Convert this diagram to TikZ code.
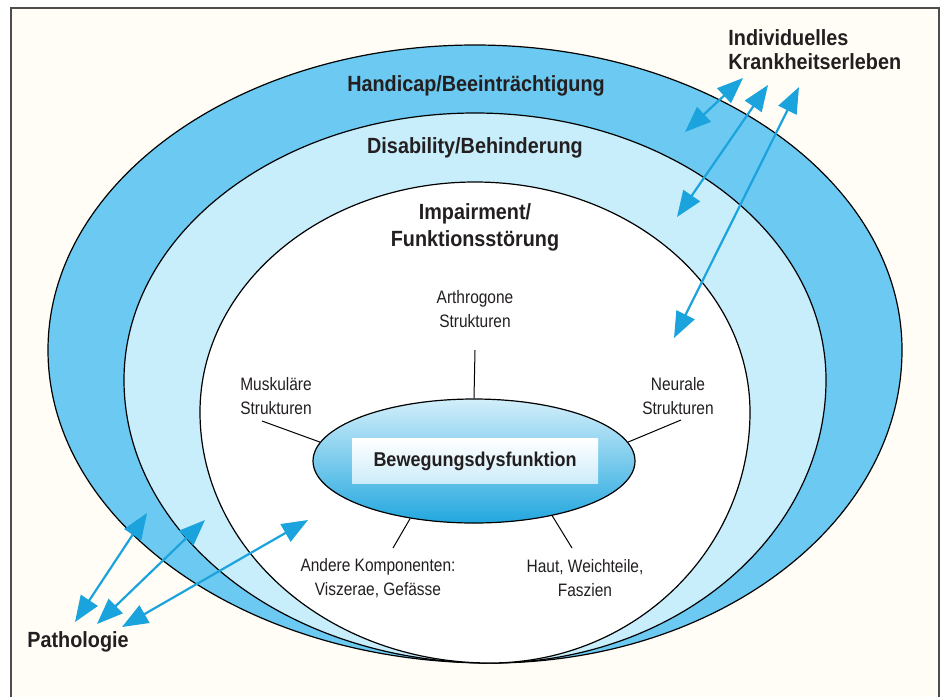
\documentclass[tikz,border=0pt]{standalone}
\usepackage{fontspec}
\usetikzlibrary{arrows.meta,shapes.geometric}
\newfontfamily\regf{Liberation Sans}[FakeStretch=0.86]
\newfontfamily\boldf{Liberation Sans}[FakeStretch=0.9]
\definecolor{outerblue}{HTML}{6CC9F1}
\definecolor{midblue}{HTML}{C8EDFB}
\definecolor{arrowblue}{HTML}{1AA3DC}
\definecolor{txt}{HTML}{231F20}
\definecolor{paper}{HTML}{FFFDF6}
\definecolor{framec}{HTML}{4D4D4D}
\tikzset{
  egg/.style n args={6}{insert path={
    ({#1-#3},#2) .. controls ({#1-#3},{#2-0.5523*#4}) and ({#1-0.5523*#3},{#2-#4}) .. (#1,{#2-#4})
    .. controls ({#1+0.5523*#3},{#2-#4}) and ({#1+#3},{#2-0.5523*#4}) .. ({#1+#3},#2)
    .. controls ({#1+#3},{#2+0.5523*#5}) and ({#6+0.5523*(#1+#3-#6)},{#2+#5}) .. (#6,{#2+#5})
    .. controls ({#6-0.5523*(#6-#1+#3)},{#2+#5}) and ({#1-#3},{#2+0.5523*#5}) .. cycle}},
  boldlab/.style={inner sep=0pt, text=txt, align=center, font=\boldf\bfseries\fontsize{11}{13.5}\selectfont},
  reglab/.style={inner sep=0pt, text=txt, align=center, font=\regf\fontsize{9}{12.2}\selectfont},
  spoke/.style={draw=black, line width=0.5pt},
  outline/.style={draw=black, line width=0.6pt},
  twoway/.style={draw=arrowblue, line width=1.1pt, {Triangle[length=13pt,width=10pt]}-{Triangle[length=13pt,width=10pt]}}
}
\begin{document}
\begin{tikzpicture}[x=0.5pt,y=-0.5pt]
\useasboundingbox (0,0) rectangle (947,697);
\fill[white] (0,0) rectangle (947,697);
\fill[paper] (11,8) rectangle (939,697);
\draw[framec, line width=0.9pt] (11,697) -- (11,8) -- (939,8) -- (939,697);

% nested shapes
\path[fill=outerblue, outline] [egg={475}{350}{427}{305}{313}{490}];
\path[fill=midblue, outline] [egg={475}{380}{351}{267}{283}{490}];
\path[fill=white, outline] [egg={475}{412}{275}{230}{251}{490}];

% central ellipse
\node[ellipse, outline, minimum width=161pt, minimum height=62pt, inner sep=0pt,
      top color=white!70!outerblue, bottom color=arrowblue!90!outerblue] (bew) at (474,461) {};
\node[inner sep=0pt, minimum width=123pt, minimum height=22.5pt,
      top color=white, bottom color=white!65!outerblue, text=txt,
      font=\boldf\bfseries\fontsize{10}{12}\selectfont] (bewlab) at (475,461) {Bewegungsdysfunktion};

% ring labels
\node[boldlab] (handicap) at (476,86) {Handicap/Beeinträchtigung};
\node[boldlab] (disab) at (475,148) {Disability/Behinderung};
\node[boldlab] (impair) at (475,227) {Impairment/\\Funktionsstörung};

% component labels
\node[reglab] (arth) at (475,309) {Arthrogone\\Strukturen};
\node[reglab] (musk) at (276,396) {Muskuläre\\Strukturen};
\node[reglab] (neur) at (678,396) {Neurale\\Strukturen};
\node[reglab] (andere) at (378,578) {Andere Komponenten:\\Viszerae, Gefässe};
\node[reglab] (haut) at (585,578) {Haut, Weichteile,\\Faszien};

% spoke ends
\coordinate (arthend) at (475,350);
\coordinate (muskend) at (262,421);
\coordinate (neurend) at (681,420);
\coordinate (andereend) at (393,548);
\coordinate (hautend) at (572,548);
\draw[spoke] (arthend) -- (bew.north);
\draw[spoke] (muskend) -- (bew.173);
\draw[spoke] (neurend) -- (bew.7);
\draw[spoke] (andereend) -- (bew.222);
\draw[spoke] (hautend) -- (bew.325);

% outside labels
\node[boldlab, align=left, anchor=west, font=\boldf\bfseries\fontsize{11}{12}\selectfont] (indiv) at (728,50) {Individuelles\\Krankheitserleben};
\node[boldlab, anchor=west] (patho) at (27,642) {Pathologie};

% arrow ends
\coordinate (ia1) at (743,78);  \coordinate (ib1) at (685,132);
\coordinate (ia2) at (768,85);  \coordinate (ib2) at (677,217);
\coordinate (ia3) at (799,87);  \coordinate (ib3) at (674,338);
\coordinate (pa1) at (75,622);  \coordinate (pb1) at (147,513);
\coordinate (pa2) at (97,624);  \coordinate (pb2) at (205,520);
\coordinate (pa3) at (122,627); \coordinate (pb3) at (308,520);
\draw[twoway] (ia1) -- (ib1);
\draw[twoway] (ia2) -- (ib2);
\draw[twoway] (ia3) -- (ib3);
\draw[twoway] (pa1) -- (pb1);
\draw[twoway] (pa2) -- (pb2);
\draw[twoway] (pa3) -- (pb3);
\end{tikzpicture}
\end{document}
